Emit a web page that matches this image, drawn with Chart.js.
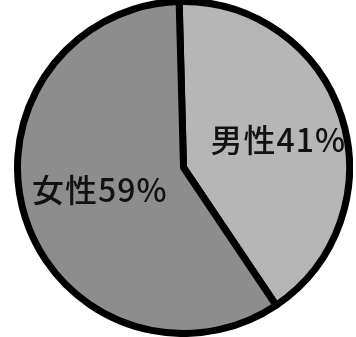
<!DOCTYPE html>
<html>
<head>
<meta charset="utf-8">
<script src="https://cdn.jsdelivr.net/npm/chart.js@4"></script>
<style>
  html, body { margin: 0; padding: 0; background: #fff; overflow: hidden; }
  body { width: 356px; height: 337px; position: relative; }
  #wrap { position: absolute; left: 14px; top: -2px; width: 339px; height: 339px; }
</style>
</head>
<body>
<div id="wrap"><canvas id="chart"></canvas></div>
<script>
const categories = ['男性', '女性'];
const shares = [41, 59];
const sliceColors = ['#b6b6b6', '#8d8d8d'];

// label text drawn inside each slice, a bit out from the centre
const sliceLabels = {
    id: 'sliceLabels',
    afterDatasetsDraw(chart, args, opts) {
        const ctx = chart.ctx;
        const meta = chart.getDatasetMeta(0);
        ctx.save();
        ctx.fillStyle = '#111';
        ctx.font = opts.font;
        ctx.letterSpacing = '1px';
        ctx.textAlign = 'center';
        ctx.textBaseline = 'middle';
        meta.data.forEach((arc, i) => {
            const p = arc.getProps(['x', 'y', 'startAngle', 'endAngle', 'outerRadius'], true);
            const mid = (p.startAngle + p.endAngle) / 2;
            const r = p.outerRadius * opts.radius[i];
            const x = p.x + Math.cos(mid) * r;
            const y = p.y + Math.sin(mid) * r + opts.shiftY[i];
            const text = categories[i] + shares[i] + '%';
            ctx.fillText(text, x, y);
        });
        ctx.restore();
    }
};

const chart = document.querySelector('#chart').getContext('2d');

new Chart(chart, {
    type: 'pie',
    data: {
        labels: categories,
        datasets: [
            {
                data: shares,
                backgroundColor: sliceColors,
                borderColor: '#000',
                borderWidth: 7,
                borderJoinStyle: 'round'
            }
        ]
    },
    options: {
        responsive: true,
        maintainAspectRatio: false,
        animation: false,
        rotation: -1.5,
        layout: { padding: 0 },
        plugins: {
            legend: { display: false },
            tooltip: { enabled: false },
            sliceLabels: {
                font: '500 32px "Noto Sans CJK JP"',
                radius: [0.6, 0.53],
                shiftY: [3, -4]
            }
        }
    },
    plugins: [sliceLabels]
});
</script>
</body>
</html>
